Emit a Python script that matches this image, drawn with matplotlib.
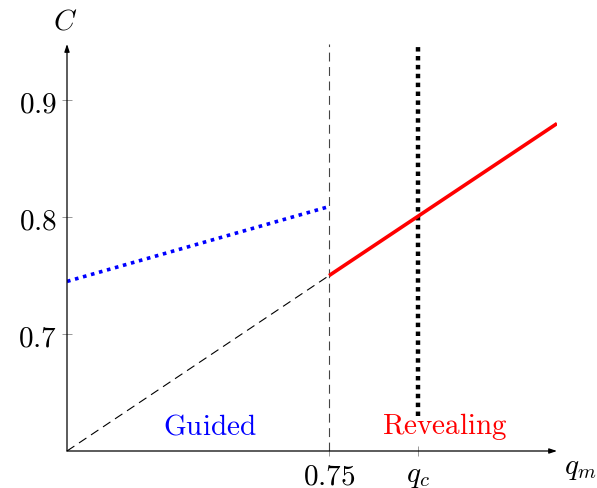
import matplotlib
matplotlib.use("Agg")
import matplotlib.pyplot as plt
import numpy as np

plt.rcParams['mathtext.fontset'] = 'cm'
plt.rcParams['font.family'] = 'serif'
plt.rcParams['font.serif'] = ['DejaVu Serif']

# data
q_threshold = 0.75
q_c = 0.8
guided_x = [0.6028, 0.75]
guided_y = [0.745, 0.809]
revealing_x = [0.75, 0.878]
revealing_y = [0.75, 0.88]
diag_x = [0.6028, 0.75]
diag_y = [0.6, 0.75]
qc_line_bottom = 0.63
y_ticks = [0.7, 0.8, 0.9]
y_ticklabels = ['$0.7$', '$0.8$', '$0.9$']
x_ticks = [0.75, 0.8]
x_ticklabels = ['$0.75$', '$q_c$']

W, H = 597, 489
fig = plt.figure(figsize=(W/100, H/100), dpi=100)
ax = fig.add_axes([67/W, (H-452)/H, (557-67)/W, (452-45)/H])
ax.set_xlim(0.6028, 0.878)
ax.set_ylim(0.6, 0.948)

for s in ['top', 'right', 'left', 'bottom']:
    ax.spines[s].set_visible(False)

# axes with arrows
ax.annotate('', xy=(1.0, 0), xytext=(0, 0), xycoords='axes fraction',
            arrowprops=dict(arrowstyle='-|>,head_length=0.45,head_width=0.15', color='black', lw=0.9, shrinkA=0, shrinkB=0))
ax.annotate('', xy=(0, 1.0), xytext=(0, 0), xycoords='axes fraction',
            arrowprops=dict(arrowstyle='-|>,head_length=0.45,head_width=0.15', color='black', lw=0.9, shrinkA=0, shrinkB=0))

ax.set_yticks(y_ticks)
ax.set_yticklabels(y_ticklabels, fontsize=21)
ax.set_xticks(x_ticks)
ax.set_xticklabels(x_ticklabels, fontsize=21)
ax.tick_params(direction='inout', length=7, width=0.6, color='#888888', pad=4)

# vertical lines
ax.axvline(q_threshold, color='#444444', lw=0.8, ls=(0, (8, 5)))
ax.plot([q_c, q_c], [qc_line_bottom, 0.948], color='black', lw=3.2, ls=(0, (1, 1)), solid_capstyle='butt')

# diagonal
ax.plot(diag_x, diag_y, color='black', lw=0.8, ls=(0, (8, 5)))
# guided
ax.plot(guided_x, guided_y, color='blue', lw=2.6, ls=(0, (1, 1.3)))
# revealing
ax.plot(revealing_x, revealing_y, color='red', lw=2.6, solid_capstyle='butt')

ax.text(0.683, 0.622, r'$\mathrm{Guided}$', color='blue', fontsize=21, ha='center', va='center')
ax.text(0.815, 0.622, r'$\mathrm{Revealing}$', color='red', fontsize=21, ha='center', va='center')

fig.text(65/W, 1-22/H, '$C$', fontsize=21, ha='center', va='center')
fig.text(580/W, 1-468/H, '$q_m$', fontsize=21, ha='center', va='center')

fig.savefig('out.png', dpi=100)
